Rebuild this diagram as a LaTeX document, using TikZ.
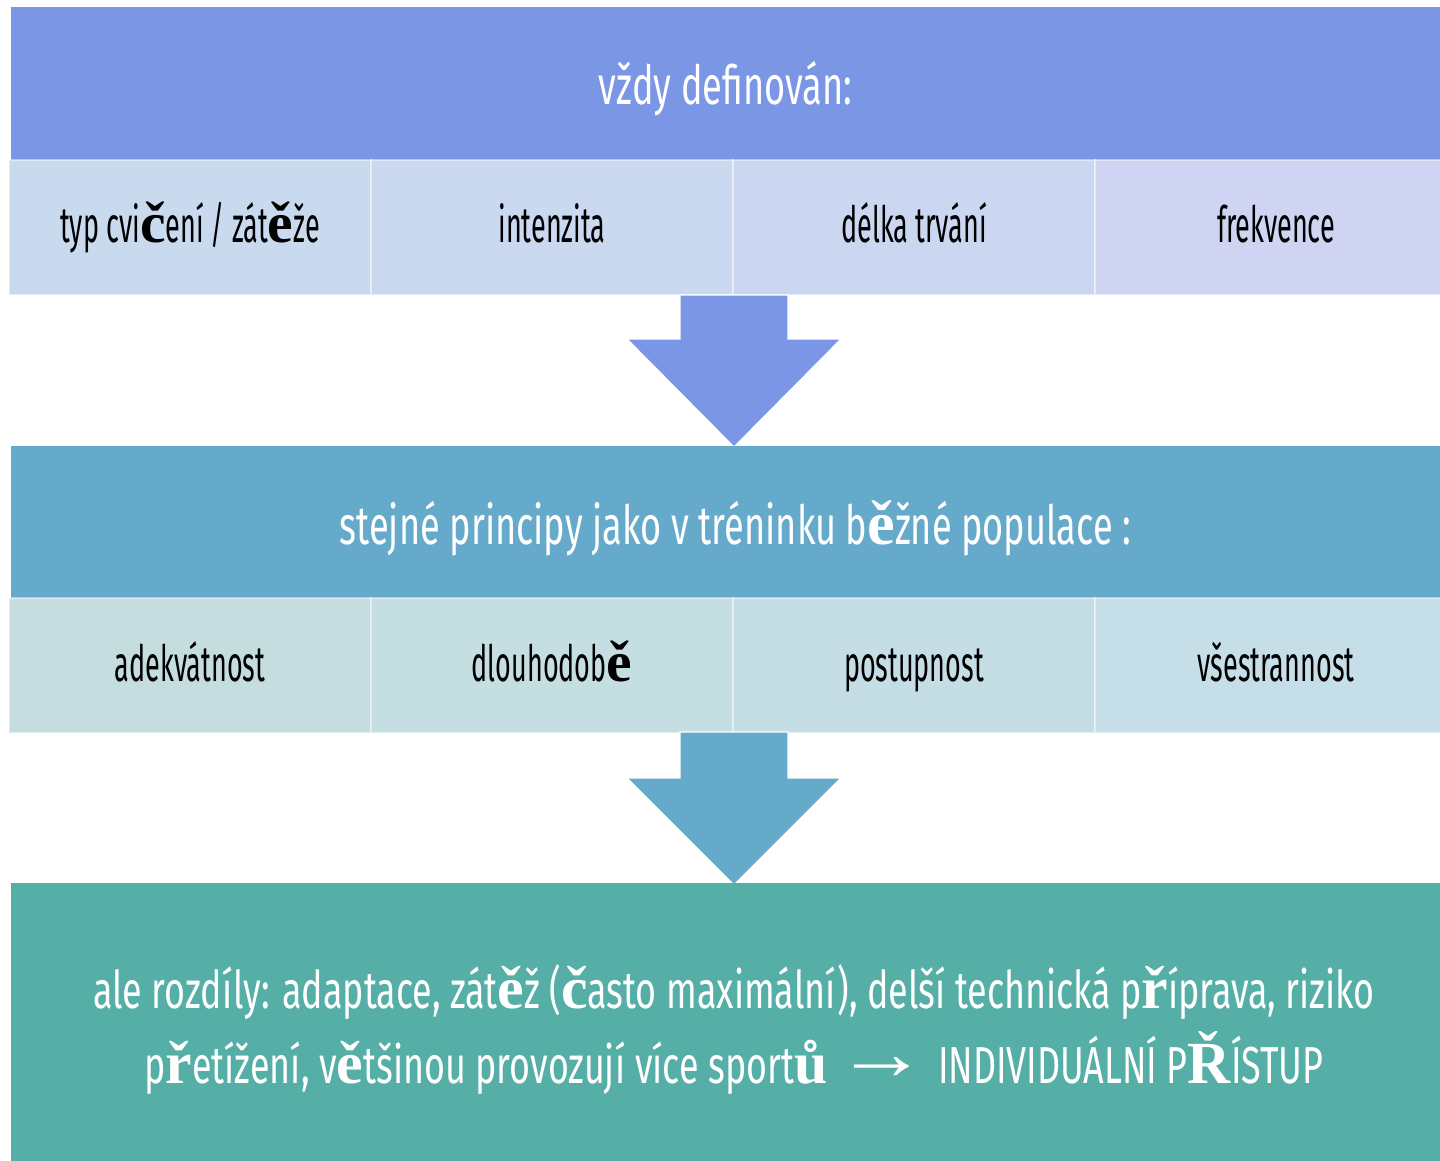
\documentclass[tikz,border=0pt]{standalone}
\usepackage{fontspec}
\setmainfont{Fira Sans}[FakeStretch=0.54]
\newfontfamily\titlefont{Fira Sans}[FakeStretch=0.67]
\newfontfamily\bodyfont{Fira Sans}[FakeStretch=0.69]
\newfontfamily\serifbk{Liberation Serif}[Scale=1.15]
\newcommand{\fb}[1]{{\serifbk\bfseries #1}}
\usepackage{tikz}
\usetikzlibrary{positioning}
\definecolor{bandA}{HTML}{7A96E4}
\definecolor{bandB}{HTML}{66AACB}
\definecolor{bodyC}{HTML}{56AFA6}
\definecolor{cellAa}{HTML}{C9DAEF}
\definecolor{cellAb}{HTML}{CAD8F0}
\definecolor{cellAc}{HTML}{CBD6F1}
\definecolor{cellAd}{HTML}{CED4F2}
\definecolor{cellBa}{HTML}{C5DDDF}
\definecolor{cellBb}{HTML}{C5DEE2}
\definecolor{cellBc}{HTML}{C5DEE5}
\definecolor{cellBd}{HTML}{C6DEE8}

\begin{document}
\begin{tikzpicture}[
    x=1pt, y=-1pt,
    band/.style={rectangle, inner sep=0pt, outer sep=0pt, anchor=north west, minimum width=1429pt, minimum height=153pt, text=white, font=\titlefont\fontsize{54}{60}\selectfont, text height=50pt, text depth=7pt},
    cell/.style={rectangle, fill=#1, draw=white, draw opacity=0.45, line width=2pt, inner sep=0pt, outer sep=0pt, minimum width=362pt, minimum height=135pt, font=\fontsize{50}{56}\selectfont, text height=40pt, text depth=9pt},
    bodytext/.style={anchor=base, inner sep=0pt, text=white, font=\bodyfont\fontsize{52}{58}\selectfont},
    pointer/.style={fill=#1, draw=white, line width=1.2pt}
]
    \useasboundingbox (0,0) rectangle (1440,1161);

    % first level
    \node[band, fill=bandA] (top) at (11,7) {vždy definován:};
    \node[cell=cellAa, anchor=north west] (c11) at (9,160) {typ cvi\fb{č}ení / zát\fb{ě}že};
    \node[cell=cellAb, right=0pt of c11] (c12) {intenzita};
    \node[cell=cellAc, right=0pt of c12] (c13) {délka trvání};
    \node[cell=cellAd, right=0pt of c13] (c14) {frekvence};

    \filldraw[pointer=bandA] (680,295) -- (788,295) -- (788,339) -- (841,339) -- (734,447) -- (627,339) -- (680,339) -- cycle;

    % second level
    \node[band, fill=bandB] (mid) at (11,446) {\hspace{20pt}stejné principy jako v tréninku b\fb{ě}žné populace :};
    \node[cell=cellBa, anchor=north west] (c21) at (9,598) {adekvátnost};
    \node[cell=cellBb, right=0pt of c21] (c22) {dlouhodob\fb{ě}};
    \node[cell=cellBc, right=0pt of c22] (c23) {postupnost};
    \node[cell=cellBd, right=0pt of c23] (c24) {všestrannost};

    \filldraw[pointer=bandB] (680,732) -- (788,732) -- (788,778) -- (841,778) -- (734,885) -- (627,778) -- (680,778) -- cycle;

    % result
    \node[band, fill=bodyC, minimum height=278pt] (res) at (11,883) {};
    \node[bodytext] (res1) at (734,1008) {ale rozdíly: adaptace, zát\fb{ě}ž (\fb{č}asto maximální), delší technická p\fb{ř}íprava, riziko};
    \node[bodytext] (res2) at (734,1083) {p\fb{ř}etížení, v\fb{ě}tšinou provozují více sport\fb{ů}\hspace{8pt}{\serifbk\raisebox{4pt}{\scalebox{1.55}[1.3]{→}}}\hspace{10pt}INDIVIDUÁLNÍ P\fb{Ř}ÍSTUP};
\end{tikzpicture}
\end{document}
